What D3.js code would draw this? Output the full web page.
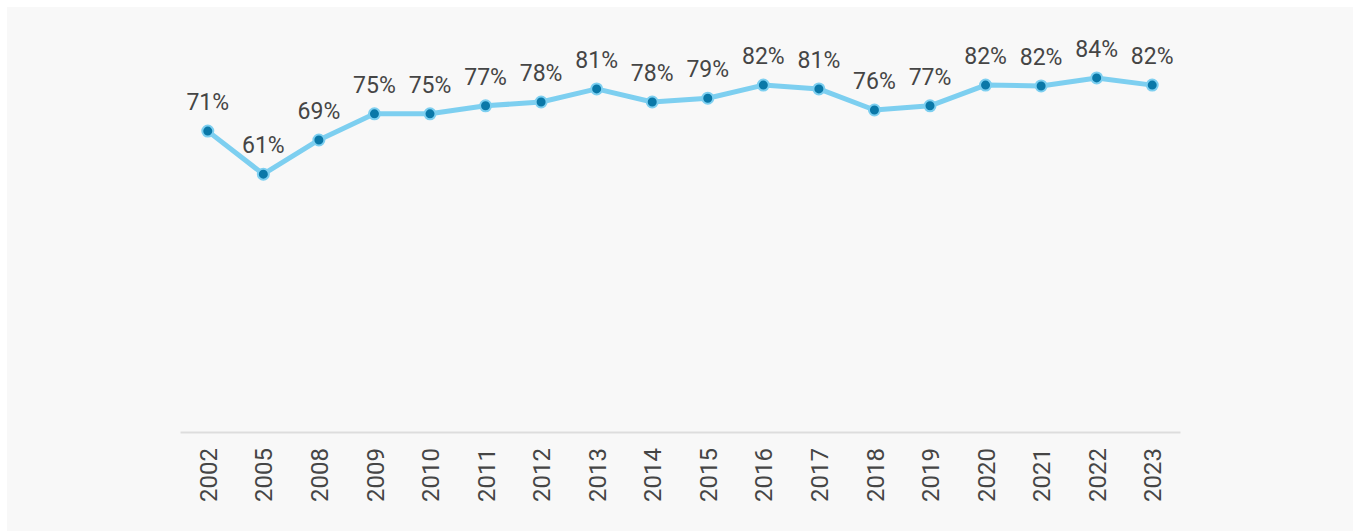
<!DOCTYPE html>
<html>
<head>
<meta charset="utf-8">
<script src="https://cdn.jsdelivr.net/npm/d3@7"></script>
<style>
  body { margin: 0; background: #ffffff; }
  text { font-family: Roboto, "Liberation Sans", Arial, sans-serif; fill: #454545; }
</style>
</head>
<body>
<div id="canvas"></div>
<script>
/* DATA */
const years = ["2002", "2005", "2008", "2009", "2010", "2011", "2012", "2013", "2014",
               "2015", "2016", "2017", "2018", "2019", "2020", "2021", "2022", "2023"];
const shares = [71.3, 61.1, 69.2, 75.4, 75.4, 77.3, 78.2, 81.3, 78.2,
                79.1, 82.2, 81.3, 76.3, 77.3, 82.2, 82.0, 83.9, 82.2];

/* CANVAS */
const width = 1356;
const height = 531;

const svg = d3.select("#canvas")
    .append("svg")
    .attr("width", width)
    .attr("height", height);

svg.append("rect")
    .attr("x", 7)
    .attr("y", 7)
    .attr("width", 1346)
    .attr("height", 530)
    .attr("fill", "#f8f8f8");

/* SCALES */
const x = d3.scalePoint()
    .domain(years)
    .range([180, 1180])
    .padding(0.5);

const y = d3.scaleLinear()
    .domain([0, 100])
    .range([432, 10]);

/* AXIS */
const xAxis = svg.append("g")
    .attr("transform", "translate(0,432)")
    .call(d3.axisBottom(x).tickSize(0).tickPadding(0));

xAxis.select(".domain")
    .attr("stroke", "#dddddd")
    .attr("stroke-width", 2);

xAxis.selectAll("text")
    .attr("transform", "translate(0,16) rotate(-90)")
    .attr("x", 0)
    .attr("y", 0)
    .attr("dy", "0.36em")
    .attr("text-anchor", "end")
    .style("font-size", "24px")
    .style("font-family", "Roboto, \"Liberation Sans\", Arial, sans-serif")
    .attr("fill", "#454545");

/* LINE */
const line = d3.line()
    .x((d, i) => x(years[i]))
    .y(d => y(d));

svg.append("path")
    .datum(shares)
    .attr("d", line)
    .attr("fill", "none")
    .attr("stroke", "#7dcff0")
    .attr("stroke-width", 5)
    .attr("stroke-linejoin", "round");

/* POINTS */
svg.selectAll(".dot")
    .data(shares)
    .join("circle")
    .attr("class", "dot")
    .attr("cx", (d, i) => x(years[i]))
    .attr("cy", d => y(d))
    .attr("r", 5.5)
    .attr("fill", "#0a78a8")
    .attr("stroke", "#7dcff0")
    .attr("stroke-width", 2);

/* LABELS */
svg.selectAll(".label")
    .data(shares)
    .join("text")
    .attr("class", "label")
    .attr("x", (d, i) => x(years[i]))
    .attr("y", d => y(d) - 21)
    .attr("text-anchor", "middle")
    .style("font-size", "23px")
    .text(d => Math.round(d) + "%");
</script>
</body>
</html>
